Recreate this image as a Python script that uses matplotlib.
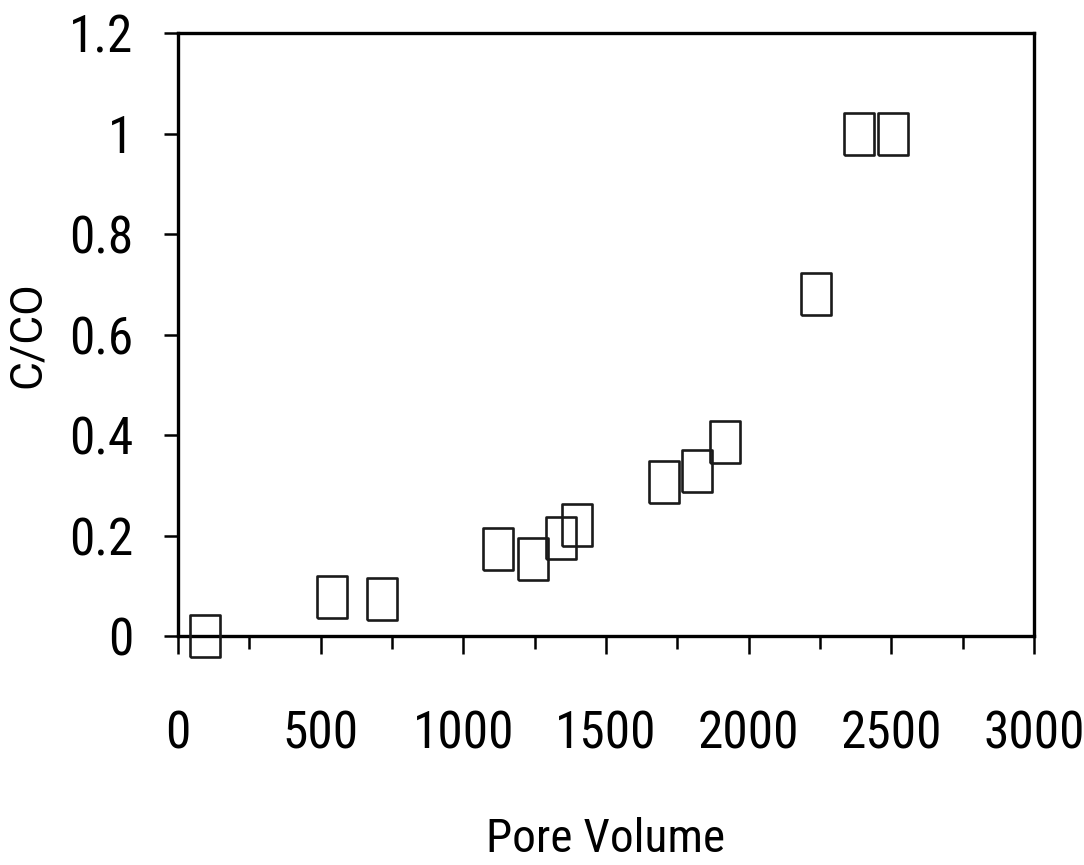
import matplotlib
matplotlib.use("Agg")
import matplotlib.pyplot as plt
from matplotlib.ticker import MultipleLocator

# breakthrough data
pore_volume = [96, 540, 715, 1120, 1244, 1342, 1400, 1703, 1819, 1917, 2236, 2387, 2506]
c_over_c0 = [0.0, 0.078, 0.073, 0.174, 0.154, 0.196, 0.222, 0.306, 0.328, 0.386, 0.682, 1.0, 1.0]

x_ticks = [0, 500, 1000, 1500, 2000, 2500, 3000]
y_ticks = [0, 0.2, 0.4, 0.6, 0.8, 1.0, 1.2]
y_tick_labels = ["0", "0.2", "0.4", "0.6", "0.8", "1", "1.2"]

NARROW = ["Roboto Condensed", "Open Sans Condensed", "Roboto", "DejaVu Sans"]

# tall open rectangle marker, like the original
rect = [(-0.354, -0.5), (0.354, -0.5), (0.354, 0.5), (-0.354, 0.5), (-0.354, -0.5)]

fig = plt.figure(figsize=(10.84, 8.65), dpi=100)
ax = fig.add_axes([0.1642, 0.2647, 0.7897, 0.6966])

ax.plot(pore_volume, c_over_c0, linestyle="none", marker=rect, markersize=30,
        markerfacecolor="none", markeredgecolor="#1a1a1a", markeredgewidth=1.9,
        clip_on=False, zorder=3)

ax.set_xlim(0, 3000)
ax.set_ylim(0, 1.2)
ax.set_xticks(x_ticks)
ax.set_xticklabels([str(t) for t in x_ticks])
ax.xaxis.set_minor_locator(MultipleLocator(250))
ax.set_yticks(y_ticks)
ax.set_yticklabels(y_tick_labels)

for side in ax.spines.values():
    side.set_linewidth(2.4)
    side.set_color("black")

ax.tick_params(axis="x", which="major", direction="out", length=13, width=1.8, pad=40)
ax.tick_params(axis="x", which="minor", direction="out", length=9.5, width=1.8)
ax.tick_params(axis="y", which="major", direction="out", length=10, width=1.8, pad=22)

for lab in ax.get_xticklabels() + ax.get_yticklabels():
    lab.set_family(NARROW)
    lab.set_fontsize(37)

ax.set_xlabel("Pore Volume", family=NARROW, fontsize=34, va="top")
ax.xaxis.set_label_coords(0.5, -0.3)
ax.set_ylabel("C/CO", family=["Roboto", "DejaVu Sans"], fontsize=32, va="center", ha="center")
ax.yaxis.set_label_coords(-0.175, 0.5)

fig.savefig("out.png", dpi=100, facecolor="white")
